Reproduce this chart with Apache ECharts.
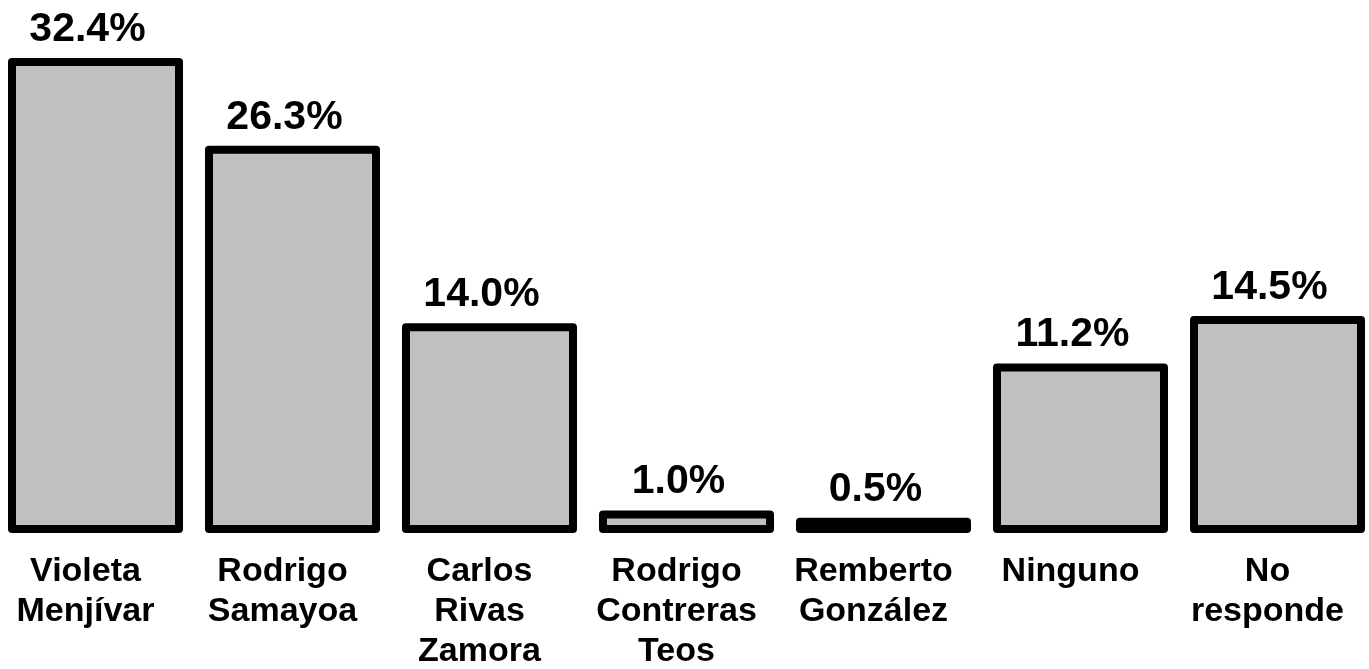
<!DOCTYPE html>
<html>
<head>
<meta charset="utf-8">
<title>Intención de voto</title>
<script src="https://cdn.jsdelivr.net/npm/echarts@6/dist/echarts.min.js"></script>
<style>
  html, body { margin: 0; padding: 0; background: #fff; }
  #main { width: 1369px; height: 669px; }
</style>
</head>
<body>
<div id="main"></div>
<script>
// datos del gráfico
var candidatos = ['Violeta\nMenjívar', 'Rodrigo\nSamayoa', 'Carlos\nRivas\nZamora', 'Rodrigo\nContreras\nTeos', 'Remberto\nGonzález', 'Ninguno', 'No\nresponde'];
var porcentajes = [32.4, 26.3, 14.0, 1.0, 0.5, 11.2, 14.5];

var fuente = '"Liberation Sans", Arial, sans-serif';
var anchoBarra = 167;

var myChart = echarts.init(document.getElementById('main'));

// barras con borde centrado (la serie bar de echarts mete el borde hacia dentro)
function dibujarBarra(params, api) {
    var i = api.value(0);
    var arriba = api.coord([i, api.value(1)]);
    var base = api.coord([i, 0]);
    return {
        type: 'rect',
        shape: {
            x: arriba[0] - anchoBarra / 2,
            y: arriba[1],
            width: anchoBarra,
            height: base[1] - arriba[1]
        },
        style: {
            fill: '#c0c0c0',
            stroke: '#000',
            lineWidth: 8,
            lineJoin: 'round'
        },
        textContent: {
            style: {
                text: api.value(1).toFixed(1) + '%',
                font: 'bold 41px ' + fuente,
                fill: '#000'
            }
        },
        // la etiqueta va un poco a la izquierda, como en el original
        textConfig: { position: 'top', distance: 8, offset: [-8, 0] }
    };
}

var option = {
    animation: false,
    grid: {
        left: -3,
        right: -7,
        top: 10,
        bottom: 140,
        outerBoundsMode: 'none'
    },
    xAxis: {
        type: 'category',
        data: candidatos,
        axisLine: { show: false },
        axisTick: { show: false },
        axisLabel: {
            interval: 0,
            margin: 23,
            padding: [0, 20, 0, 0],
            color: '#000',
            fontFamily: fuente,
            fontWeight: 'bold',
            fontSize: 34,
            lineHeight: 40
        }
    },
    yAxis: {
        type: 'value',
        min: 0,
        max: 36,
        show: false
    },
    series: [{
        type: 'custom',
        renderItem: dibujarBarra,
        encode: { x: 0, y: 1 },
        data: porcentajes.map(function (v, i) { return [i, v]; })
    }]
};

myChart.setOption(option);
</script>
</body>
</html>
